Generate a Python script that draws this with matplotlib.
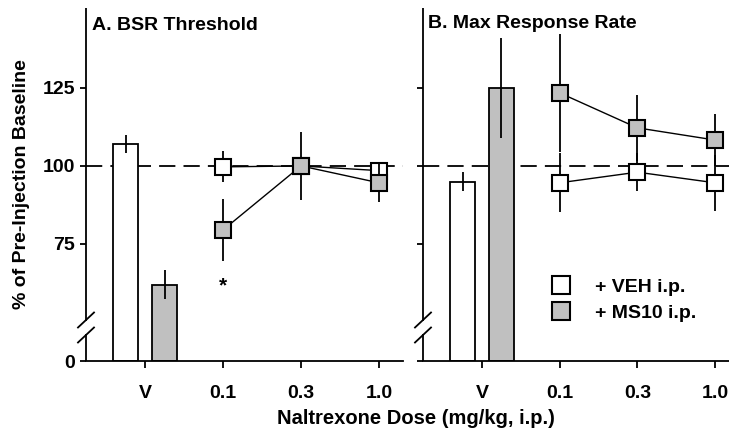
import matplotlib
matplotlib.use('Agg')
import matplotlib.pyplot as plt
from matplotlib.lines import Line2D

plt.rcParams['font.family'] = ['Liberation Sans', 'DejaVu Sans']
plt.rcParams['font.weight'] = 'bold'
plt.rcParams['font.size'] = 14

doses = ['V', '0.1', '0.3', '1.0']

# panel A: BSR threshold (% of baseline)
bsr_veh_bar, bsr_veh_bar_err = 107, 3
bsr_ms10_bar, bsr_ms10_bar_err = 62, 4.5
bsr_veh = [99.7, 100, 98.5]
bsr_veh_err = [5, 3, 2]
bsr_ms10 = [79.5, 100, 94.6]
bsr_ms10_err = [10, 11, 6]

# panel B: max response rate (% of baseline)
rate_veh_bar, rate_veh_bar_err = 95, 3
rate_ms10_bar, rate_ms10_bar_err = 125, 16
rate_veh = [94.6, 98, 94.6]
rate_veh_err = [9.4, 6, 9]
rate_ms10 = [123.4, 112.2, 108.3]
rate_ms10_err = [19, 10.6, 8.4]

ytick_vals = [0, 75, 100, 125]
gray = '#c0c0c0'
base = 37.5   # where the broken axis "0" sits
lw = 1.3

fig = plt.figure(figsize=(7.29, 4.38), dpi=100)
axA = fig.add_axes([86/729, 1-361/438, 317/729, 353/438])
axB = fig.add_axes([423/729, 1-361/438, 306/729, 353/438])


def panel(ax, title, veh_bar, veh_bar_err, ms_bar, ms_bar_err,
          veh, veh_err, ms, ms_err, xlim, show_labels):
    x = list(range(len(doses)))
    ax.bar(x[0]-0.25, veh_bar-base, bottom=base, width=0.32, color='white',
           edgecolor='black', linewidth=lw, zorder=2)
    ax.bar(x[0]+0.25, ms_bar-base, bottom=base, width=0.32, color=gray,
           edgecolor='black', linewidth=lw, zorder=2)
    ax.errorbar([x[0]-0.25], [veh_bar], yerr=[veh_bar_err], fmt='none',
                ecolor='black', elinewidth=lw, zorder=3)
    ax.errorbar([x[0]+0.25], [ms_bar], yerr=[ms_bar_err], fmt='none',
                ecolor='black', elinewidth=lw, zorder=3)

    ax.axhline(100, color='black', lw=lw, dashes=(9, 4.5), zorder=1)

    ax.errorbar(x[1:], veh, yerr=veh_err, fmt='s-', color='black', mfc='white',
                mec='black', mew=lw+0.2, ms=11.5, lw=1.0, elinewidth=lw, zorder=4)
    ax.errorbar(x[1:], ms, yerr=ms_err, fmt='s-', color='black', mfc=gray,
                mec='black', mew=lw+0.2, ms=11.5, lw=1.0, elinewidth=lw, zorder=5)

    ax.set_xlim(*xlim)
    ax.set_ylim(base, 150.6)
    ax.set_xticks(x)
    ax.set_xticklabels(doses)
    yt = [base] + ytick_vals[1:]
    ax.set_yticks(yt)
    if show_labels:
        ax.set_yticklabels([str(v) for v in ytick_vals])
    else:
        ax.set_yticklabels([])
    ax.tick_params(axis='x', direction='out', length=5, width=lw, pad=12)
    ax.tick_params(axis='y', direction='out', length=4, width=lw, pad=4)

    for s in ['top', 'right', 'left']:
        ax.spines[s].set_visible(False)
    ax.spines['bottom'].set_linewidth(lw)

    # broken left spine
    w = ax.get_position().width * 729
    h = 353
    g0, g1 = (361-334)/h, (361-321)/h
    ax.plot([0, 0], [0, g0], transform=ax.transAxes, color='black', lw=lw,
            clip_on=False, solid_capstyle='butt')
    ax.plot([0, 0], [g1, 1], transform=ax.transAxes, color='black', lw=lw,
            clip_on=False, solid_capstyle='butt')
    dx, dy = 8/w, 7.5/h
    for yc in [(361-320)/h, (361-335)/h]:
        ax.plot([-dx, dx], [yc-dy, yc+dy], transform=ax.transAxes,
                color='black', lw=lw, clip_on=False)

    ax.text(0.02, 0.95, title, transform=ax.transAxes, ha='left', va='center',
            fontsize=14, fontweight='bold')


panel(axA, 'A. BSR Threshold', bsr_veh_bar, bsr_veh_bar_err, bsr_ms10_bar,
      bsr_ms10_bar_err, bsr_veh, bsr_veh_err, bsr_ms10, bsr_ms10_err,
      (-0.76, 3.31), True)
panel(axB, 'B. Max Response Rate', rate_veh_bar, rate_veh_bar_err, rate_ms10_bar,
      rate_ms10_bar_err, rate_veh, rate_veh_err, rate_ms10, rate_ms10_err,
      (-0.76, 3.18), False)
axB.texts[0].set_position((0.017, 0.955))

# significance marker
axA.text(1, 61.5, '*', ha='center', va='center', fontsize=15, fontweight='bold')

axA.set_ylabel('% of Pre-Injection Baseline', fontsize=14, fontweight='bold',
               labelpad=9)
fig.text(416/729, 1-418/438, 'Naltrexone Dose (mg/kg, i.p.)', ha='center',
         va='center', fontsize=14.5, fontweight='bold')

handles = [Line2D([], [], ls='none', marker='s', ms=12.5, mfc='white', mec='black', mew=lw+0.2),
           Line2D([], [], ls='none', marker='s', ms=12.5, mfc=gray, mec='black', mew=lw+0.2)]
axB.legend(handles, ['+ VEH i.p.', '+ MS10 i.p.'], loc='upper left',
           bbox_to_anchor=(0.392, 0.262), frameon=False, borderpad=0,
           handlelength=0.9, handletextpad=1.3, labelspacing=0.45,
           prop={'size': 14, 'weight': 'bold'})

fig.savefig('out.png', dpi=100)
